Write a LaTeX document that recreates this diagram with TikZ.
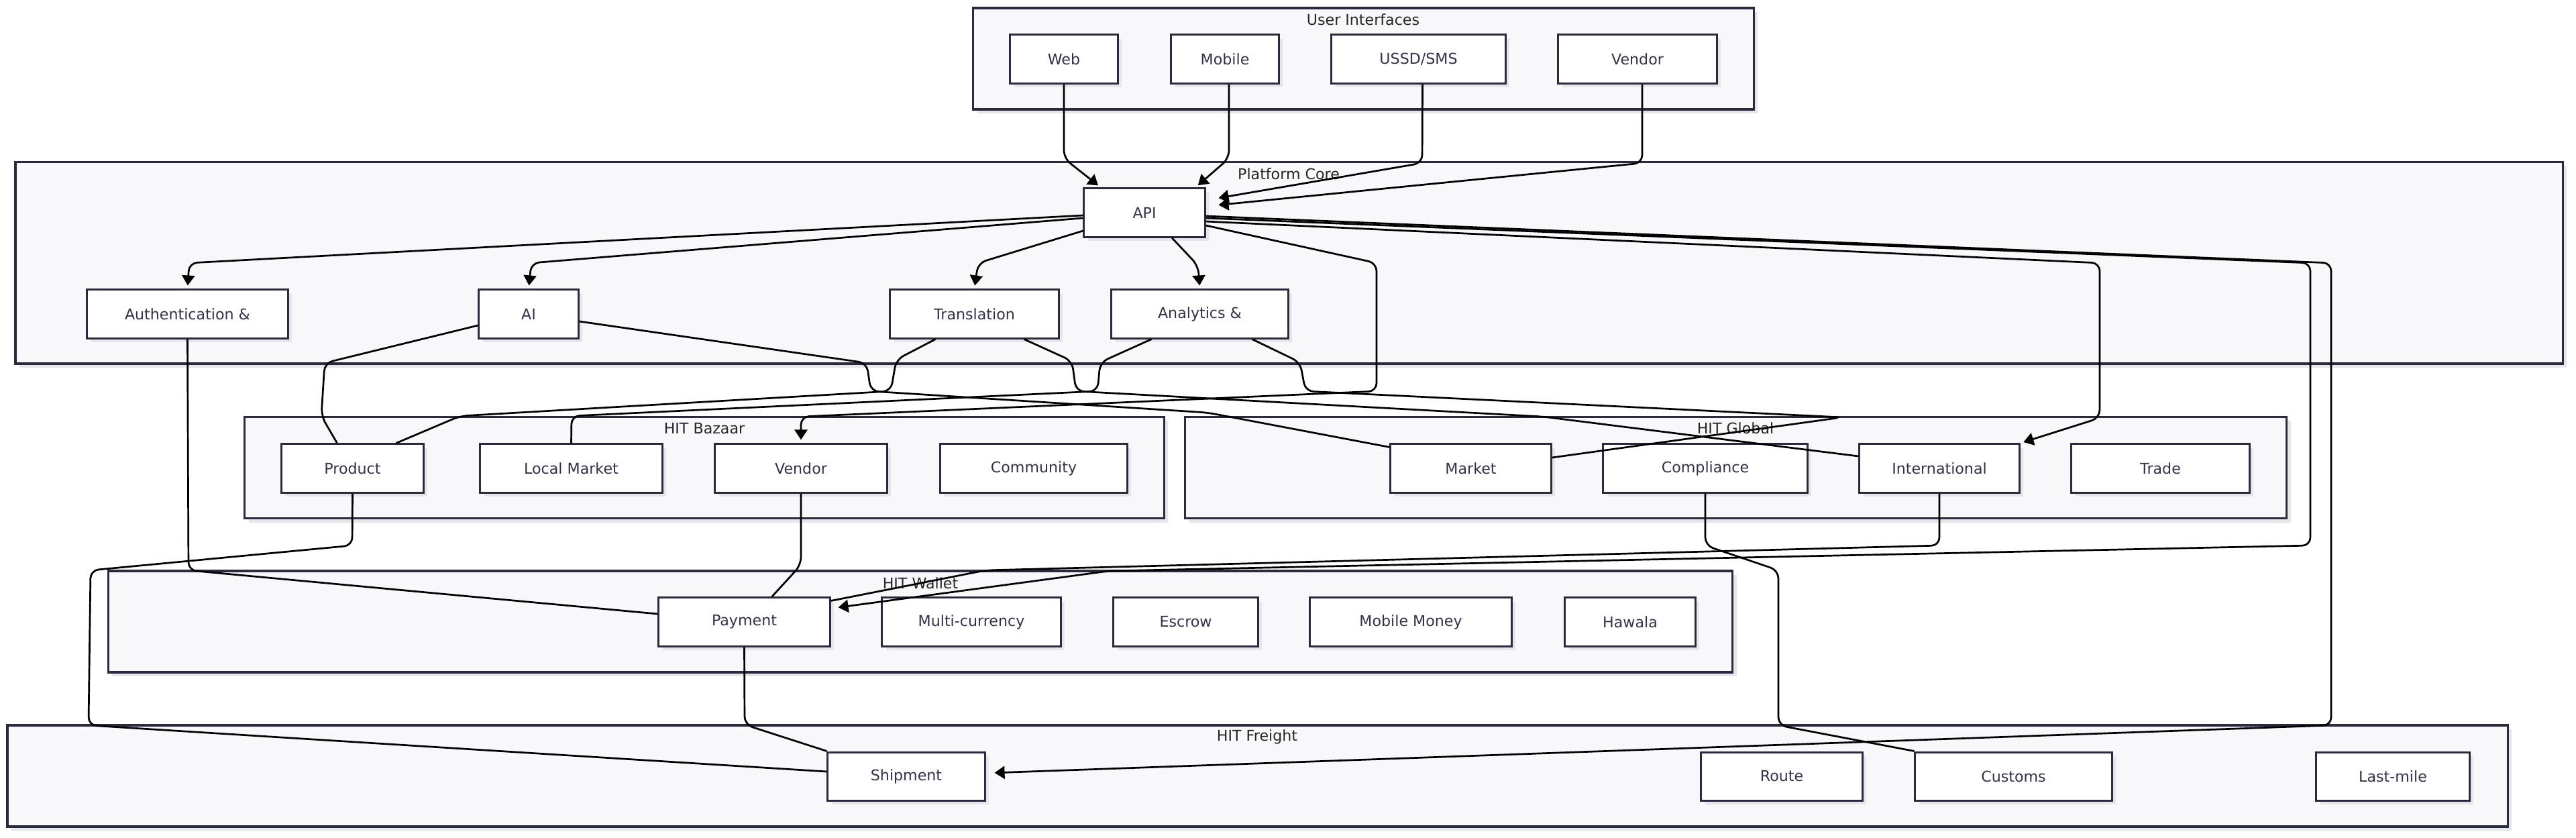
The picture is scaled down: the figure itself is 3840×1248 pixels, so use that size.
\documentclass[tikz,border=0pt]{standalone}
\usepackage{fontspec}
\setmainfont{DejaVu Sans}
\usepackage{tikz}
\usetikzlibrary{shapes,arrows.meta}
\usetikzlibrary{calc}
\usetikzlibrary{positioning, shadows}
\definecolor{groupfill}{RGB}{248,248,250}
\definecolor{boxborder}{RGB}{42,42,62}
\definecolor{shadowgray}{RGB}{230,230,234}
\definecolor{nodetext}{RGB}{50,50,72}

\begin{document}
\begin{tikzpicture}[x=0.01cm, y=-0.01cm,
	svc_node/.style={rectangle, draw=boxborder, line width=0.03cm, fill=white, minimum height=0.72cm, inner sep=0pt, text=nodetext, font=\fontsize{6.3}{7.5}\selectfont, general shadow={fill=shadowgray, shadow xshift=0.06cm, shadow yshift=-0.06cm}},
	group_box/.style={rectangle, draw=boxborder, line width=0.032cm, fill=groupfill, inner sep=0pt, minimum height=1.51cm, general shadow={fill=shadowgray, shadow xshift=0.06cm, shadow yshift=-0.06cm}},
	group_label/.style={inner sep=0pt, text=black!85, font=\fontsize{6.3}{7.5}\selectfont},
	flow_arrow/.style={draw=black, line width=0.027cm, rounded corners=0.12cm, -{Triangle[length=0.15cm,width=0.19cm]}, shorten >=0.05cm},
	link_line/.style={draw=black, line width=0.027cm, rounded corners=0.12cm}]
				\path[use as bounding box, fill=white] (0,0) rectangle (3840,1248);
				\node[group_box, minimum width=11.63cm](ui_grp) at (2032.5,87.5){};
				\node[group_box, minimum width=37.95cm, minimum height=3.005cm](core_grp) at (1921.5,391.75){};
				\node[group_box, minimum width=13.70cm](bazaar_grp) at (1050,697){};
				\node[group_box, minimum width=16.41cm](global_grp) at (2587.5,697){};
				\node[group_box, minimum width=24.20cm](wallet_grp) at (1372,926.5){};
				\node[group_box, minimum width=37.25cm](freight_grp) at (1874.5,1156.5){};
				\node[group_label](ui_lbl) at (2032,29){User Interfaces};
				\node[group_label](core_lbl) at (1921,259){Platform Core};
				\node[group_label](bazaar_lbl) at (1050,639){HIT Bazaar};
				\node[group_label](global_lbl) at (2587,638){HIT Global};
				\node[group_label](wallet_lbl) at (1372,869){HIT Wallet};
				\node[group_label](freight_lbl) at (1874,1098){HIT Freight};

				\node[svc_node, minimum width=1.60cm](web) at (1586,88){Web};
				\node[svc_node, minimum width=1.60cm](mobile) at (1826,88){Mobile};
				\node[svc_node, minimum width=2.59cm](ussd) at (2114.5,88){USSD/SMS};
				\node[svc_node, minimum width=2.36cm](uivendor) at (2441,88){Vendor};

				\node[svc_node, minimum width=1.80cm](api) at (1706,317){API};
				\node[svc_node, minimum width=2.99cm](auth) at (279.5,468){Authentication \&};
				\node[svc_node, minimum width=1.48cm](ai) at (788,468){AI};
				\node[svc_node, minimum width=2.51cm](trans) at (1452.5,468){Translation};
				\node[svc_node, minimum width=2.63cm](analytics) at (1788.5,468){Analytics \&};

				\node[svc_node, minimum width=2.11cm](product) at (525.5,698){Product};
				\node[svc_node, minimum width=2.71cm](localmkt) at (851.5,698){Local Market};
				\node[svc_node, minimum width=2.56cm](bvendor) at (1194,698){Vendor};
				\node[svc_node, minimum width=2.78cm](community) at (1541,698){Community};

				\node[svc_node, minimum width=2.39cm](market) at (2192.5,698){Market};
				\node[svc_node, minimum width=3.04cm](compliance) at (2542,698){Compliance};
				\node[svc_node, minimum width=2.38cm](intl) at (2891,698){International};
				\node[svc_node, minimum width=2.65cm](trade) at (3220.5,698){Trade};

				\node[svc_node, minimum width=2.55cm](payment) at (1109.5,927){Payment};
				\node[svc_node, minimum width=2.66cm](multicur) at (1448,927){Multi-currency};
				\node[svc_node, minimum width=2.15cm](escrow) at (1767.5,927){Escrow};
				\node[svc_node, minimum width=3.00cm](mobmoney) at (2103,927){Mobile Money};
				\node[svc_node, minimum width=1.94cm](hawala) at (2430,927){Hawala};

				\node[svc_node, minimum width=2.34cm](shipment) at (1351,1157){Shipment};
				\node[svc_node, minimum width=2.40cm](route) at (2656,1157){Route};
				\node[svc_node, minimum width=2.93cm](customs) at (3001.5,1157){Customs};
				\node[svc_node, minimum width=2.28cm](lastmile) at (3567,1157){Last-mile};

				\draw[flow_arrow] (web.south) -- (1586,236) -- ($(api.north)+(-65,0)$);
				\draw[flow_arrow] ($(mobile.south)+(6,0)$) -- (1832,236) -- ($(api.north)+(76,0)$);
				\draw[flow_arrow] ($(ussd.south)+(6,0)$) -- (2120,243) -- ($(api.east)+(14,-21)$);
				\draw[flow_arrow] ($(uivendor.south)+(7,0)$) -- (2448,243) -- ($(api.east)+(14,-11)$);

				\draw[flow_arrow] ($(api.west)+(0,4)$) -- (282,392) -- (auth.north);
				\draw[flow_arrow] ($(api.west)+(0,8)$) -- (792,392) -- (ai.north);
				\draw[flow_arrow] ($(api.west)+(0,27)$) -- (1458,392) -- (trans.north);
				\draw[flow_arrow] ($(api.south)+(41,0)$) -- (1786,396) -- (analytics.north);
				\draw[flow_arrow] ($(api.east)+(0,19)$) -- (2052,392) -- (2052,583) -- (1194,621) -- (bvendor.north);
				\draw[flow_arrow] ($(api.east)+(0,13)$) -- (3130,392) -- (3130,623) -- (intl.north east);
				\draw[flow_arrow] ($(api.east)+(0,8)$) -- (3444,392) -- (3444,813) -- (1653,851) -- ($(payment.east)+(6,-21)$);
				\draw[flow_arrow] ($(api.east)+(0,5)$) -- (3475,392) -- (3475,1081) -- ($(shipment.east)+(8,-5)$);

				\draw[link_line] ($(ai.west)+(0,17)$) -- (484,541) -- (479,620) -- ($(product.north)+(-23,0)$);
				\draw[link_line] ($(ai.east)+(0,11)$) -- (1292,541) -- (1298,583) -- (1800,615) -- ($(market.north west)+(0,6)$);
				\draw[link_line] ($(trans.south)+(-58,0)$) -- (1336,536) -- (1328,583) -- (686,620) -- ($(product.north)+(65,0)$);
				\draw[link_line] ($(trans.south)+(74,0)$) -- (1598,538) -- (1604,583) -- (2300,621) -- ($(intl.west)+(0,-18)$);
				\draw[link_line] ($(analytics.south)+(-72,0)$) -- (1640,540) -- (1636,583) -- (852,620) -- (localmkt.north);
				\draw[link_line] ($(analytics.south)+(78,0)$) -- (1938,540) -- (1946,583) -- (2746,622) -- ($(market.east)+(0,-16)$);

				\draw[link_line] (auth.south) -- (281,850) -- ($(payment.west)+(0,-12)$);
				\draw[link_line] (product.south) -- (525,813) -- (135,850) -- (132,1081) -- ($(shipment.west)+(0,-7)$);
				\draw[link_line] (bvendor.south) -- (1194,842) -- ($(payment.north)+(41,0)$);
				\draw[link_line] (payment.south) -- (1110,1080) -- (shipment.north west);
				\draw[link_line] (intl.south) -- (2891,813) -- (1469,850) -- ($(payment.north east)+(0,6)$);
				\draw[link_line] (compliance.south) -- (2542,813) -- (2651,850) -- (2651,1081) -- (customs.north west);
			\end{tikzpicture}
\end{document}
